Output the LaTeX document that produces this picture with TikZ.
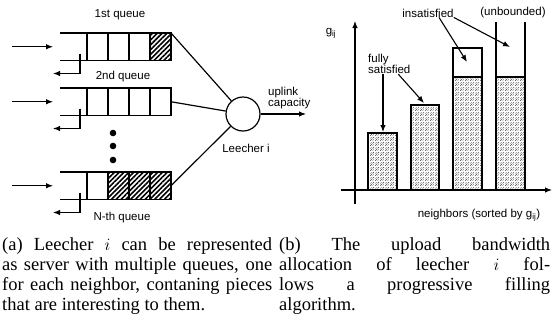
\documentclass[tikz,border=0pt]{standalone}
\usepackage{fontspec}
\setmainfont{Liberation Serif}
\setsansfont{Liberation Sans}
\usetikzlibrary{positioning,arrows.meta,patterns.meta}
\tikzstyle{canvas} = [x = 1pt, y = -1pt]
\tikzstyle{queueLine} = [line width = 1.2pt]
\tikzstyle{barLine} = [line width = 1.4pt]
\tikzstyle{arrowLine} = [line width = 1.1pt, -{Latex[length = 7pt, width = 5.5pt]}]
\tikzstyle{labelText} = [font = \sffamily\fontsize{11.5}{11.5}\selectfont, inner sep = 0pt]
\tikzstyle{captionText} = [font = \rmfamily\fontsize{18.5}{20.2}\selectfont, inner sep = 0pt, anchor = north west, align = left]
\tikzstyle{hatched} = [pattern = {Lines[angle = 45, distance = 3.4pt, line width = 1.6pt]}]
\tikzdeclarepattern{
  name = stipple, type = uncolored,
  bounding box = {(0,0) and (5pt,5pt)},
  tile size = {(5pt,5pt)},
  code = {
    \draw [line width = .5pt] (.4pt,.4pt) -- (2pt,2pt);
    \draw [line width = .5pt] (3pt,3pt) -- (4.6pt,4.6pt);
    \draw [line width = .5pt] (3pt,.6pt) -- (4.2pt,1.8pt);
    \draw [line width = .5pt] (.6pt,3pt) -- (1.8pt,4.2pt);
  }
}
\tikzstyle{filled} = [pattern = stipple, pattern color = black!80]
\newcommand{\queueHeight}{27.5}
% #1 = top edge, #2 = left edge of the hatched cells, #3 = name
\newcommand{\queueBox}[3]{
  \fill [hatched] (#2, #1) rectangle (171, #1 + \queueHeight);
  \draw [queueLine] (60, #1) -- (171, #1) -- (171, #1 + \queueHeight) -- (60, #1 + \queueHeight);
  \foreach \divider in {87, 108, 129, 150} {
    \draw [queueLine] (\divider, #1) -- + (0, \queueHeight);
  }
  \coordinate (#3Src) at (12, #1 + \queueHeight / 2);
  \coordinate (#3In) at (53, #1 + \queueHeight / 2);
  \coordinate (#3Out) at (80, #1 + \queueHeight - 7);
  \coordinate (#3Back) at (53, #1 + \queueHeight + 13);
  \coordinate (#3East) at (171, #1 + \queueHeight / 2);
  \coordinate (#3Corner) at (171, #1);
  \draw [arrowLine] (#3Src) -- (#3In);
  \draw [arrowLine] (#3Out) |- (#3Back);
}
\newcommand{\fillBar}[3]{\filldraw [barLine, filled] (#1, 190) rectangle (#2, #3);}

\begin{document}
\begin{tikzpicture}[canvas]
  \useasboundingbox (0,0) rectangle (552,330);

  \queueBox{33}{150}{first}
  \queueBox{88}{171}{second}
  \queueBox{172}{108}{last}
  \foreach \dotY in {133, 146, 160} {
    \fill (113, \dotY) circle (3.3pt);
  }
  \node [labelText] (firstLabel) at (120,15) {1st queue};
  \node [labelText] (secondLabel) at (123,77) {2nd queue};
  \node [labelText] (lastLabel) at (122,218) {N-th queue};

  \node [circle, draw, queueLine, minimum size = 34pt, inner sep = 0pt] (leecher) at (243,114) {};
  \node [labelText] (leecherLabel) at (246,148) {Leecher i};
  \draw [queueLine] (firstCorner) -- (leecher);
  \draw [queueLine] (secondEast) -- (leecher);
  \draw [queueLine] (lastEast) -- (leecher);
  \coordinate (uplink) at (306,114);
  \draw [arrowLine] (leecher) -- (uplink);
  \node [labelText, align = left, anchor = west] (uplinkLabel) at (268,98) {uplink\\capacity};

  % axes
  \coordinate (yBottom) at (355,204);
  \coordinate (yTop) at (355,21);
  \coordinate (xLeft) at (341,190);
  \coordinate (xRight) at (552,190);
  \draw [arrowLine] (yBottom) -- (yTop);
  \draw [arrowLine] (xLeft) -- (xRight);
  \node [labelText] (gLabel) at (331,33) {g\textsubscript{ij}};
  \node [labelText] (neighborsLabel) at (479,215) {neighbors (sorted by g\textsubscript{ij})};

  % bars
  \fillBar{368}{397}{133}
  \fillBar{411}{439}{105}
  \fillBar{453}{482}{77}
  \fillBar{496}{525}{77}
  \draw [barLine] (453,77) rectangle (482,48);
  \draw [barLine] (496,77) -- (496,22);
  \draw [barLine] (525,77) -- (525,22);

  \coordinate (barOneTop) at (383,132);
  \coordinate (barTwoTop) at (424,103);
  \coordinate (gapTop) at (467,62);
  \coordinate (openTop) at (510,47);
  \node [labelText, align = left, anchor = west] (fullyLabel) at (368,64) {fully\\satisfied};
  \node [labelText] (insatLabel) at (428,13) {insatisfied};
  \node [labelText] (openLabel) at (513,13) {(unbounded)};
  \draw [arrowLine] (fullyLabel.south -| barOneTop) -- (barOneTop);
  \draw [arrowLine] ([xshift = 9pt]fullyLabel.south) -- (barTwoTop);
  \draw [arrowLine] ([xshift = 11pt]insatLabel.south) -- (gapTop);
  \draw [arrowLine] (insatLabel.south east) -- (openTop);

  \node [captionText] (captionA) at (2,237) {%
    \makebox[270pt][s]{(a) Leecher $i$ can be represented}\\
    \makebox[270pt][s]{as server with multiple queues, one}\\
    \makebox[270pt][s]{for each neighbor, contaning pieces}\\
    that are interesting to them.};
  \node [captionText] (captionB) at (279,237) {%
    \makebox[271pt][s]{(b) The upload bandwidth}\\
    \makebox[271pt][s]{allocation of leecher $i$ fol-}\\
    \makebox[271pt][s]{lows a progressive filling}\\
    algorithm.};
\end{tikzpicture}
\end{document}
